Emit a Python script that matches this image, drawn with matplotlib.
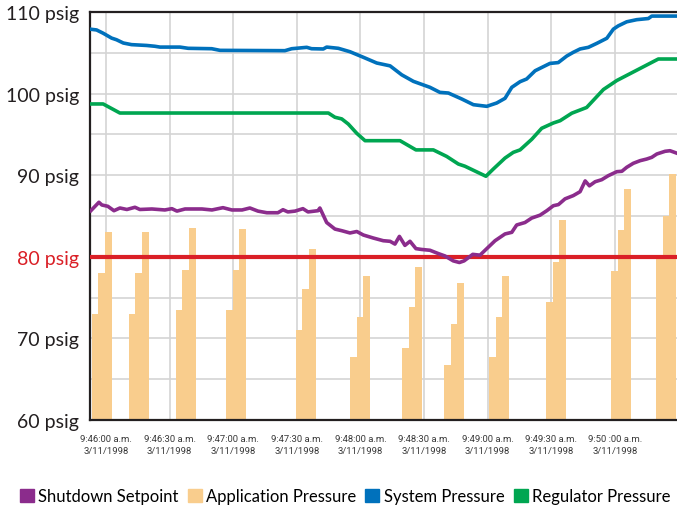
import matplotlib
matplotlib.use("Agg")
import matplotlib.pyplot as plt
from matplotlib.patches import Patch

# time axis: seconds after 9:46:00 a.m.
tick_sec = [0, 30, 60, 90, 120, 150, 180, 210, 240]
tick_labels = ["9:46:00 a.m.\n3/11/1998", "9:46:30 a.m.\n3/11/1998",
               "9:47:00 a.m.\n3/11/1998", "9:47:30 a.m.\n3/11/1998",
               "9:48:00 a.m.\n3/11/1998", "9:48:30 a.m.\n3/11/1998",
               "9:49:00 a.m.\n3/11/1998", "9:49:30 a.m.\n3/11/1998",
               "9:50 :00 a.m.\n3/11/1998"]
ytick_vals = [60, 70, 80, 90, 100, 110]
ytick_labels = ["60 psig", "70 psig", "80 psig", "90 psig", "100 psig", "110 psig"]

# application pressure bursts (start time, three step values)
app_start = [-6.6, 10.8, 33.0, 56.6, 89.6, 115.1, 139.6, 159.4, 180.7, 207.5, 238.2, 259.4]
app_step1 = [73.0, 73.0, 73.5, 73.5, 71.0, 67.7, 68.8, 66.8, 67.7, 74.5, 78.2, 80.1]
app_step2 = [78.0, 78.0, 78.4, 78.4, 76.0, 72.6, 73.8, 71.8, 72.6, 79.4, 83.3, 85.0]
app_step3 = [83.0, 83.0, 83.5, 83.4, 81.0, 77.6, 78.8, 76.8, 77.6, 84.5, 88.3, 90.1]

shutdown_setpoint = 80

sys_t = [-7.5, -4.4, -1.3, 2.7, 5.0, 8.2, 12.1, 19.2, 23.1, 25.5,
         34.9, 38.8, 49.9, 53.8, 84.4, 87.6, 94.7, 97.0, 102.5, 104.1,
         109.6, 115.1, 121.4, 127.7, 134.0, 139.5, 145.0, 152.8, 157.5, 161.5,
         167.8, 173.3, 179.6, 184.3, 188.2, 191.4, 195.3, 198.4, 202.4, 205.5,
         209.4, 213.3, 217.3, 220.4, 223.6, 227.5, 231.5, 236.2, 239.3, 241.6,
         245.6, 250.3, 255.8, 257.4, 269.2]
sys_p = [107.9, 107.8, 107.4, 106.8, 106.6, 106.2, 106.0, 105.9, 105.8, 105.7,
         105.7, 105.55, 105.5, 105.3, 105.26, 105.5, 105.67, 105.5, 105.47, 105.7,
         105.55, 105.13, 104.45, 103.75, 103.4, 102.3, 101.5, 100.77, 100.15, 100.07,
         99.34, 98.64, 98.44, 98.85, 99.42, 100.77, 101.46, 101.79, 102.8, 103.2,
         103.7, 103.8, 104.6, 105.06, 105.47, 105.67, 106.16, 106.78, 107.9, 108.3,
         108.8, 109.06, 109.2, 109.5, 109.5]

reg_t = [-7.5, -1.3, 6.6, 104.9, 108.0, 111.2, 114.3, 118.3, 122.2, 138.7,
         146.2, 154.4, 160.7, 166.2, 169.3, 179.2, 182.7, 188.2, 192.1, 195.3,
         200.8, 205.5, 211.0, 214.2, 219.7, 226.7, 234.6, 240.9, 260.5, 269.2]
reg_p = [98.73, 98.73, 97.62, 97.62, 97.1, 96.9, 96.27, 95.13, 94.23, 94.23,
         93.1, 93.1, 92.3, 91.37, 91.1, 89.87, 90.76, 92.1, 92.8, 93.1,
         94.4, 95.75, 96.4, 96.68, 97.6, 98.3, 100.5, 101.6, 104.24, 104.24]

sd_t = [-7.1, -3.3, -1.9, 0.9, 3.8, 6.6, 9.9, 13.7, 16.0, 21.7,
        27.8, 31.1, 33.5, 37.3, 45.3, 50.0, 55.2, 59.4, 64.2, 67.9,
        71.7, 75.9, 81.1, 83.5, 85.8, 89.2, 92.9, 95.3, 100.0, 100.9,
        104.1, 108.0, 111.2, 115.1, 118.3, 121.4, 126.1, 130.8, 134.0, 136.3,
        138.4, 141.0, 143.4, 146.2, 148.9, 152.8, 156.7, 159.9, 163.8, 166.7,
        168.9, 173.0, 176.4, 179.6, 183.5, 188.2, 191.4, 193.7, 197.6, 200.8,
        204.7, 207.9, 211.0, 213.4, 216.5, 220.4, 223.6, 226.0, 228.0, 230.7,
        233.8, 236.9, 240.9, 243.3, 245.6, 248.7, 251.9, 255.0, 257.4, 259.8,
        263.7, 266.0, 269.2]
sd_p = [85.65, 86.68, 86.35, 86.19, 85.65, 85.98, 85.8, 86.07, 85.8, 85.86,
        85.74, 85.9, 85.6, 85.86, 85.86, 85.74, 86.02, 85.74, 85.74, 85.98,
        85.6, 85.4, 85.4, 85.77, 85.5, 85.6, 85.9, 85.5, 85.65, 85.98,
        84.2, 83.4, 83.2, 82.92, 83.1, 82.67, 82.3, 81.97, 81.9, 81.56,
        82.5, 81.4, 81.9, 81.0, 80.9, 80.8, 80.4, 80.1, 79.5, 79.3,
        79.5, 80.3, 80.2, 81.0, 81.97, 82.8, 83.0, 83.9, 84.2, 84.75,
        85.1, 85.65, 86.26, 86.4, 87.1, 87.5, 87.98, 89.3, 88.7, 89.2,
        89.45, 89.94, 90.43, 90.48, 90.97, 91.46, 91.78, 91.98, 92.19, 92.6,
        92.93, 93.0, 92.7]

purple = '#8B2C8C'
orange = '#F9CD8D'
blue = '#0071BC'
green = '#00A651'
red = '#DA1F26'
dark = '#231F20'

fig = plt.figure(figsize=(6.77, 5.10), dpi=100)
ax = fig.add_axes([90/677, 89/510, 587/677, 408/510])

step = 3.1
for k in range(len(app_start)):
    x0 = app_start[k]
    ax.bar([x0, x0 + step, x0 + 2*step], [app_step1[k] - 60, app_step2[k] - 60, app_step3[k] - 60],
           width=step, bottom=60, align='edge', color=orange, linewidth=0, zorder=2)

ax.axhline(shutdown_setpoint, color=red, lw=3, zorder=3)
ax.plot(sd_t, sd_p, color=purple, lw=2.6, zorder=4, solid_joinstyle='round')
ax.plot(sys_t, sys_p, color=blue, lw=2.6, zorder=4, solid_joinstyle='round')
ax.plot(reg_t, reg_p, color=green, lw=2.6, zorder=4, solid_joinstyle='round')

ax.set_xlim(-7.5, 269.3)
ax.set_ylim(60, 110)
ax.set_yticks(ytick_vals)
ax.set_yticks([65, 75, 85, 95, 105], minor=True)
ax.set_yticklabels(ytick_labels, fontsize=14, family=['Lato', 'DejaVu Sans'], color=dark)
ax.get_yticklabels()[2].set_color(red)
ax.set_xticks(tick_sec)
ax.set_xticklabels(tick_labels, fontsize=6.8, family=['Roboto', 'DejaVu Sans'],
                   color='#3a3a3a', linespacing=1.45)
ax.tick_params(axis='both', which='both', length=0)
ax.tick_params(axis='x', pad=10)
ax.tick_params(axis='y', pad=8)
ax.grid(True, which='both', color='#D4D4D4', lw=1.2, zorder=0)
ax.set_axisbelow(True)
for side in ['left', 'bottom', 'top']:
    ax.spines[side].set_color(dark)
    ax.spines[side].set_linewidth(1.6)
ax.spines['right'].set_visible(False)

handles = [Patch(color=purple), Patch(color=orange), Patch(color=blue), Patch(color=green)]
names = ['Shutdown Setpoint', 'Application Pressure', 'System Pressure', 'Regulator Pressure']
fig.legend(handles, names, loc='center left', bbox_to_anchor=(0.029, 0.025), ncol=4,
           frameon=False, handlelength=0.85, handleheight=0.85, handletextpad=0.25,
           columnspacing=0.55, borderaxespad=0, borderpad=0,
           prop={'family': ['Lato', 'DejaVu Sans'], 'size': 12})

fig.savefig('out.png', dpi=100)
